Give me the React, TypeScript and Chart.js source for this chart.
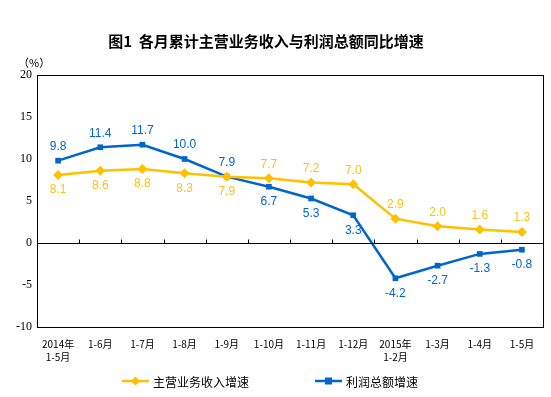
import React, { useEffect, useRef } from "react";
import { Chart, registerables } from "chart.js";

Chart.register(...registerables);

const categories: (string | string[])[] = [
  ["2014年", "1-5月"], "1-6月", "1-7月", "1-8月", "1-9月", "1-10月", "1-11月", "1-12月",
  ["2015年", "1-2月"], "1-3月", "1-4月", "1-5月",
];
const incomeGrowth = [8.1, 8.6, 8.8, 8.3, 7.9, 7.7, 7.2, 7.0, 2.9, 2.0, 1.6, 1.3];
const profitGrowth = [9.8, 11.4, 11.7, 10.0, 7.9, 6.7, 5.3, 3.3, -4.2, -2.7, -1.3, -0.8];
const incomeLabelSide = ["below", "below", "below", "below", "below", "above", "above", "above", "above", "above", "above", "above"];
const profitLabelSide = ["above", "above", "above", "above", "above", "below", "below", "below", "below", "below", "below", "below"];
const yTicks = [-10, -5, 0, 5, 10, 15, 20];
const titleText = "图1  各月累计主营业务收入与利润总额同比增速";
const unitText = "（%）";

const YELLOW = "#FFC000";
const YELLOW_TEXT = "#F7C518";
const BLUE = "#0066CC";

const decoPlugin = {
  id: "deco",
  afterDraw(chart: any) {
    const ctx = chart.ctx;
    const a = chart.chartArea;
    const x = chart.scales.x;
    const y = chart.scales.y;
    ctx.save();
    // box
    ctx.strokeStyle = "#000";
    ctx.lineWidth = 1;
    ctx.strokeRect(Math.round(a.left) + 0.5, Math.round(a.top) + 0.5, Math.round(a.right - a.left), Math.round(a.bottom - a.top));
    // zero line
    const y0 = Math.round(y.getPixelForValue(0)) + 0.5;
    ctx.beginPath();
    ctx.moveTo(a.left, y0);
    ctx.lineTo(a.right, y0);
    const n = categories.length;
    const w = (a.right - a.left) / n;
    for (let i = 1; i < n; i++) {
      const xx = Math.round(a.left + i * w) + 0.5;
      ctx.moveTo(xx, y0);
      ctx.lineTo(xx, y0 - 4);
    }
    ctx.stroke();

    // data labels
    ctx.font = "12px 'Liberation Sans', Arial, sans-serif";
    ctx.textAlign = "center";
    ctx.textBaseline = "middle";
    const drawLabels = (dsIndex: number, values: number[], sides: string[], color: string) => {
      const meta = chart.getDatasetMeta(dsIndex);
      ctx.fillStyle = color;
      meta.data.forEach((p: any, i: number) => {
        const dy = sides[i] === "above" ? -14 : 15;
        ctx.fillText(values[i].toFixed(1), p.x, p.y + dy);
      });
    };
    drawLabels(0, incomeGrowth, incomeLabelSide, YELLOW_TEXT);
    drawLabels(1, profitGrowth, profitLabelSide, BLUE);

    // title
    ctx.fillStyle = "#000";
    ctx.font = "bold 15px 'Noto Sans CJK SC', sans-serif";
    ctx.textAlign = "center";
    ctx.fillText(titleText, 266, 41);
    // unit
    ctx.font = "11px 'Noto Sans CJK SC', sans-serif";
    ctx.textAlign = "left";
    ctx.fillText(unitText, 18, 63);

    // legend
    const items = [
      { label: chart.data.datasets[0].label, color: YELLOW, style: "diamond", x: 122 },
      { label: chart.data.datasets[1].label, color: BLUE, style: "square", x: 315 },
    ];
    const ly = 381;
    items.forEach((it) => {
      ctx.strokeStyle = it.color;
      ctx.fillStyle = it.color;
      ctx.lineWidth = 2.5;
      ctx.beginPath();
      ctx.moveTo(it.x, ly);
      ctx.lineTo(it.x + 27, ly);
      ctx.stroke();
      const cx = it.x + 13.5;
      if (it.style === "diamond") {
        ctx.beginPath();
        ctx.moveTo(cx, ly - 4.5);
        ctx.lineTo(cx + 4.5, ly);
        ctx.lineTo(cx, ly + 4.5);
        ctx.lineTo(cx - 4.5, ly);
        ctx.closePath();
        ctx.fill();
      } else {
        ctx.fillRect(cx - 3.5, ly - 3.5, 7, 7);
      }
      ctx.fillStyle = "#000";
      ctx.font = "12px 'Noto Sans CJK SC', sans-serif";
      ctx.textAlign = "left";
      ctx.fillText(it.label, it.x + 31, ly + 1);
    });
    ctx.restore();
  },
};

export default function App() {
  const ref = useRef<HTMLCanvasElement>(null);
  useEffect(() => {
    if (!ref.current) return;
    const chart = new Chart(ref.current, {
      type: "line",
      data: {
        labels: categories as any,
        datasets: [
          {
            label: "主营业务收入增速",
            data: incomeGrowth,
            borderColor: YELLOW,
            backgroundColor: YELLOW,
            borderWidth: 2.5,
            pointStyle: "rectRot",
            pointRadius: 5,
            pointBorderWidth: 0,
            tension: 0,
          },
          {
            label: "利润总额增速",
            data: profitGrowth,
            borderColor: BLUE,
            backgroundColor: BLUE,
            borderWidth: 2.5,
            pointStyle: "rect",
            pointRadius: 4,
            pointBorderWidth: 0,
            tension: 0,
          },
        ],
      },
      options: {
        responsive: false,
        animation: false,
        layout: { padding: { top: 75, right: 8, left: 0, bottom: 0 } },
        plugins: { legend: { display: false }, title: { display: false }, tooltip: { enabled: false } },
        scales: {
          x: {
            offset: true,
            grid: { display: false, drawTicks: false },
            border: { display: false },
            ticks: {
              color: "#000",
              font: { size: 10, family: "'Noto Sans CJK SC', sans-serif", lineHeight: 1.35 },
              padding: 10,
              maxRotation: 0,
              autoSkip: false,
            },
            afterFit(scale: any) {
              scale.height = 70;
            },
          },
          y: {
            min: -10,
            max: 20,
            afterBuildTicks(scale: any) {
              scale.ticks = yTicks.map((v) => ({ value: v }));
            },
            grid: { display: false, drawTicks: false },
            border: { display: false },
            ticks: {
              color: "#000",
              font: { size: 12, family: "'Liberation Serif', 'Times New Roman', serif" },
              padding: 5,
            },
            afterFit(scale: any) {
              scale.width = 37;
            },
          },
        },
      },
      plugins: [decoPlugin],
    });
    return () => chart.destroy();
  }, []);
  return (
    <div style={{ position: "fixed", left: 0, top: 0, width: 551, height: 397, background: "#fff" }}>
      <canvas ref={ref} width={551} height={397} style={{ display: "block" }} />
    </div>
  );
}
